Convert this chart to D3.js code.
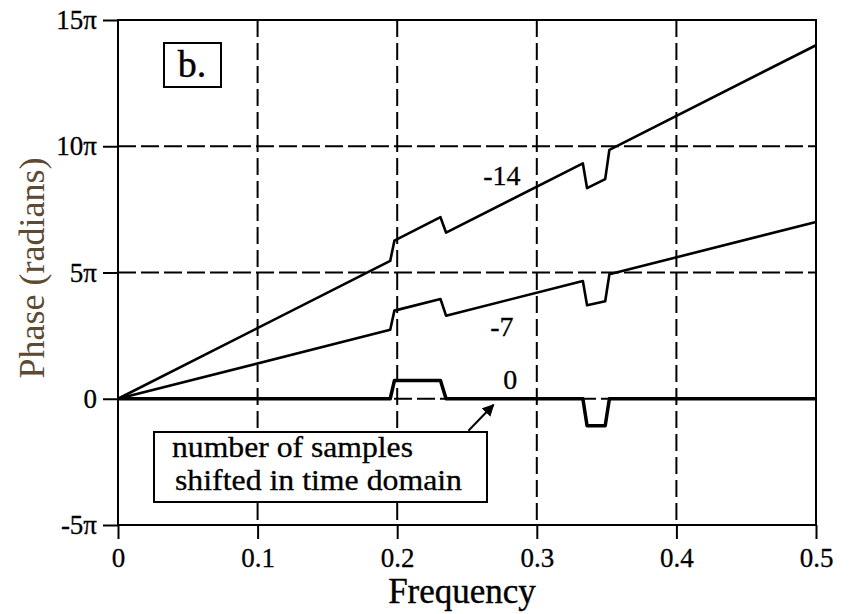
<!doctype html>
<html lang="en">
<head>
  <meta charset="utf-8">
  <title>Phase vs Frequency</title>
  <script src="https://cdn.jsdelivr.net/npm/d3@7"></script>
  <style>
    body { margin: 0; background: #fff; }
    svg text { font-family: "Liberation Serif", "DejaVu Serif", "Times New Roman", serif; fill: #000; }
  </style>
</head>
<body>
  <svg id="chart"></svg>
  <script>
    'use strict';

    var WIDTH = 852;
    var HEIGHT = 614;
    var margin = { top: 20, right: 36, bottom: 89, left: 118 };
    var SERIF = '"Liberation Serif", "DejaVu Serif", "Times New Roman", serif';

    // frequency points (fraction of sampling rate)
    var freq = [0, 0.195, 0.198, 0.231, 0.235, 0.333, 0.336, 0.349, 0.352, 0.5];
    // phase in units of pi
    var shift14 = [0, 5.46, 6.26, 7.19, 6.58, 9.32, 8.34, 8.70, 9.86, 14.0];
    var shift7 = [0, 2.73, 3.49, 3.95, 3.29, 4.66, 3.70, 3.86, 4.93, 7.0];
    var shift0 = [0, 0, 0.72, 0.72, 0, 0, -1.07, -1.07, 0, 0];

    var xTicks = [0, 0.1, 0.2, 0.3, 0.4, 0.5];
    var xTickLabels = ["0", "0.1", "0.2", "0.3", "0.4", "0.5"];
    var yTicks = [-5, 0, 5, 10, 15];
    var yTickLabels = ["-5\u03c0", "0", "5\u03c0", "10\u03c0", "15\u03c0"];

    var seriesNames = ["-14", "-7", "0"];
    var seriesValues = [shift14, shift7, shift0];
    // label anchor (frequency, phase/pi)
    var labelPos = [[0.275, 8.45], [0.275, 2.5], [0.281, 0.4]];

    var svg = d3.select("#chart").attr("width", WIDTH).attr("height", HEIGHT);
    var w = WIDTH - margin.left - margin.right;
    var h = HEIGHT - margin.top - margin.bottom;
    var g = svg.append("g").attr("transform", "translate(" + margin.left + "," + margin.top + ")");

    var x = d3.scaleLinear().domain([0, 0.5]).range([0, w]);
    var y = d3.scaleLinear().domain([-5, 15]).range([h, 0]);

    // dashed grid
    g.append("g").selectAll("line").data(xTicks.slice(1, -1)).enter().append("line")
      .attr("x1", function(d){ return x(d); }).attr("x2", function(d){ return x(d); })
      .attr("y1", 0).attr("y2", h)
      .attr("stroke", "#000").attr("stroke-width", 2).attr("stroke-dasharray", "17,6");
    g.append("g").selectAll("line").data(yTicks.slice(1, -1)).enter().append("line")
      .attr("x1", 0).attr("x2", w)
      .attr("y1", function(d){ return y(d); }).attr("y2", function(d){ return y(d); })
      .attr("stroke", "#000").attr("stroke-width", 2).attr("stroke-dasharray", "18,5");

    // axes
    var xAxis = g.append("g").attr("transform", "translate(0," + h + ")")
      .call(d3.axisBottom(x).tickValues(xTicks).tickSize(14).tickPadding(4)
        .tickFormat(function(d, i){ return xTickLabels[i]; }));
    var yAxis = g.append("g")
      .call(d3.axisLeft(y).tickValues(yTicks).tickSize(15).tickPadding(6)
        .tickFormat(function(d, i){ return yTickLabels[i]; }));
    [xAxis, yAxis].forEach(function(a){
      a.attr("font-family", null);
      a.select(".domain").remove();
      a.selectAll("line").attr("stroke", "#000").attr("stroke-width", 2);
      a.selectAll("text").style("font-family", SERIF).attr("font-size", 27).attr("fill", "#000")
        .attr("stroke", "#000").attr("stroke-width", 0.3);
    });
    xAxis.selectAll("text").attr("dy", "0.9em");

    // frame
    g.append("rect").attr("x", 0).attr("y", 0).attr("width", w).attr("height", h)
      .attr("fill", "none").attr("stroke", "#000").attr("stroke-width", 2);

    // series
    var line = d3.line()
      .x(function(d){ return x(d[0]); })
      .y(function(d){ return y(d[1]); });

    seriesValues.forEach(function(vals, i){
      var pts = freq.map(function(f, j){ return [f, vals[j]]; });
      g.append("path").datum(pts).attr("d", line)
        .attr("fill", "none").attr("stroke", "#000")
        .attr("stroke-width", i === 2 ? 3.5 : 2.6).attr("stroke-linejoin", "round");
      g.append("text").attr("x", x(labelPos[i][0])).attr("y", y(labelPos[i][1]))
        .attr("text-anchor", "middle").attr("font-size", 28).style("font-family", SERIF)
        .attr("stroke", "#000").attr("stroke-width", 0.3)
        .text(seriesNames[i]);
    });

    // "b." box
    g.append("rect").attr("x", 46).attr("y", 23).attr("width", 57).attr("height", 44)
      .attr("fill", "#fff").attr("stroke", "#000").attr("stroke-width", 2);
    g.append("text").attr("x", 74).attr("y", 57).attr("text-anchor", "middle")
      .attr("font-size", 38).style("font-family", SERIF)
      .attr("stroke", "#000").attr("stroke-width", 0.4).text("b.");

    // annotation box with arrow
    var defs = svg.append("defs");
    defs.append("marker").attr("id", "arrow").attr("viewBox", "0 0 10 10")
      .attr("refX", 9).attr("refY", 5).attr("markerWidth", 6).attr("markerHeight", 6)
      .attr("orient", "auto")
      .append("path").attr("d", "M0,0 L10,5 L0,10 Z").attr("fill", "#000");
    g.append("line").attr("x1", x(0.251)).attr("y1", y(-1.27))
      .attr("x2", x(0.269)).attr("y2", y(-0.24))
      .attr("stroke", "#000").attr("stroke-width", 2).attr("marker-end", "url(#arrow)");
    g.append("rect").attr("x", 36).attr("y", 412).attr("width", 333).attr("height", 70)
      .attr("fill", "#fff").attr("stroke", "#000").attr("stroke-width", 2);
    g.append("text").attr("x", 54).attr("y", 437).attr("font-size", 29)
      .attr("textLength", 241).attr("lengthAdjust", "spacingAndGlyphs")
      .style("font-family", SERIF).attr("stroke", "#000").attr("stroke-width", 0.3)
      .text("number of samples");
    g.append("text").attr("x", 57).attr("y", 470).attr("font-size", 29)
      .attr("textLength", 287).attr("lengthAdjust", "spacingAndGlyphs")
      .style("font-family", SERIF).attr("stroke", "#000").attr("stroke-width", 0.3)
      .text("shifted in time domain");

    // axis titles
    svg.append("text").attr("x", 462).attr("y", 603)
      .attr("text-anchor", "middle").attr("font-size", 35).style("font-family", SERIF)
      .attr("stroke", "#000").attr("stroke-width", 0.4)
      .text("Frequency");
    svg.append("text").attr("transform", "translate(44,268) rotate(-90)")
      .attr("text-anchor", "middle").attr("font-size", 36)
      .style("font-family", SERIF).style("fill", "#5c4a33")
      .text("Phase (radians)");
  </script>
</body>
</html>
